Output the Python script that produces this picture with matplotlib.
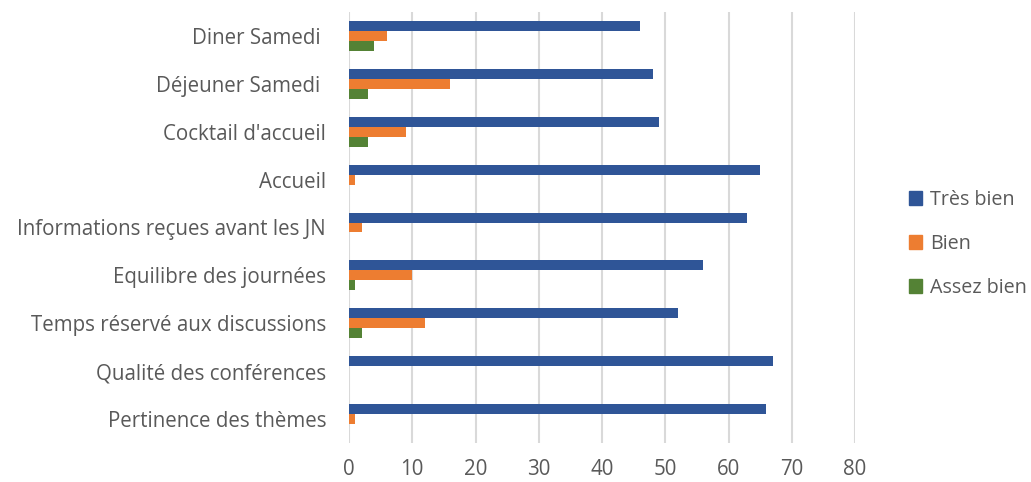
import matplotlib
matplotlib.use("Agg")
import matplotlib.pyplot as plt
import numpy as np
from matplotlib.patches import Patch

categories = ["Pertinence des thèmes", "Qualité des conférences", "Temps réservé aux discussions",
              "Equilibre des journées", "Informations reçues avant les JN", "Accueil",
              "Cocktail d'accueil", "Déjeuner Samedi ", "Diner Samedi "]
tres_bien = [66, 67, 52, 56, 63, 65, 49, 48, 46]
bien = [1, 0, 12, 10, 2, 1, 9, 16, 6]
assez_bien = [0, 0, 2, 1, 0, 0, 3, 3, 4]
series_names = ["Très bien", "Bien", "Assez bien"]
colors = ["#2F5597", "#ED7D31", "#548235"]
xticks = [0, 10, 20, 30, 40, 50, 60, 70, 80]

plt.rcParams['font.family'] = ['Open Sans', 'DejaVu Sans']
txt = "#595959"
fs = 14.8
lfs = 14.2

fig = plt.figure(figsize=(10.31, 4.82), dpi=100)
ax = fig.add_axes([349/1031, (482-443)/482, (855-349)/1031, (443-12)/482])

y = np.arange(len(categories))
h = 0.208
for vals, off, c in zip([tres_bien, bien, assez_bien], [h, 0, -h], colors):
    ax.barh(y + off, vals, height=h, color=c, zorder=3)

ax.set_xlim(0, 80)
ax.set_ylim(-0.5, len(categories) - 0.5)
ax.set_xticks(xticks)
ax.set_xticklabels([str(t) for t in xticks])
ax.set_yticks(y)
ax.set_yticklabels(categories)
ax.tick_params(axis='both', length=0, labelsize=fs, colors=txt)
ax.tick_params(axis='x', pad=11.5)
ax.tick_params(axis='y', pad=16.5)
ax.grid(axis='x', color='#d9d9d9', linewidth=1.5, zorder=0)
for s in ax.spines.values():
    s.set_visible(False)

handles = [Patch(color=c, label=n) for c, n in zip(colors, series_names)]
fig.legend(handles=handles, loc='center left', bbox_to_anchor=(909/1031, 1 - 244/482),
           frameon=False, fontsize=lfs, labelcolor=txt, handlelength=0.68, handleheight=0.68,
           handletextpad=0.4, labelspacing=1.22, borderpad=0, borderaxespad=0)

fig.savefig("out.png", dpi=100)
